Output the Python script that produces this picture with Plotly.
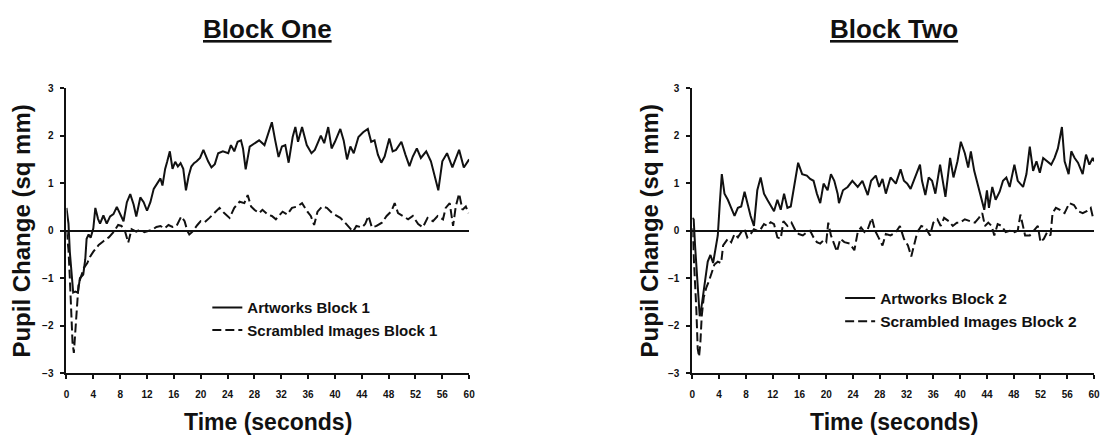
import plotly.graph_objects as go

# ---------------- data ----------------
# Block One - Artworks Block 1 (solid)
t_art1 = [0, 0.3, 0.5, 0.8, 1.0, 1.3, 1.7, 2.0, 2.5, 2.8, 3.0, 3.3, 3.6, 4.0, 4.3, 4.7, 5.0, 5.5, 6.0, 6.5,
          7.0, 7.5, 8.0, 8.5, 9.0, 9.5, 10.0, 10.4, 11.0, 11.5, 12.0, 12.5, 13.0, 13.5, 14.0, 14.3, 14.7, 15.0,
          15.4, 15.8, 16.2, 16.6, 17.0, 17.4, 17.8, 18.2, 18.6, 19.0, 19.4, 19.9, 20.4, 21.1, 21.6, 22.1, 22.6,
          23.3, 24.1, 24.5, 25.0, 25.5, 26.0, 26.3, 26.7, 27.3, 28.0, 28.7, 29.5, 30.1, 30.6, 31.1, 31.6, 32.1,
          32.6, 33.1, 33.7, 34.1, 34.5, 35.1, 35.8, 36.5, 37.0, 37.9, 38.4, 39.0, 39.5, 40.0, 40.8, 41.3, 41.8,
          42.3, 42.8, 43.5, 44.2, 44.9, 45.4, 45.9, 46.4, 46.9, 47.4, 48.1, 48.6, 49.1, 49.9, 50.5, 51.1, 51.6,
          52.2, 52.8, 53.6, 54.3, 54.9, 55.4, 56.0, 56.7, 57.5, 58.5, 59.2, 60.0]
v_art1 = [0.48, 0.15, -0.45, -1.1, -1.3, -1.28, -1.3, -1.0, -0.92, -0.6, -0.17, -0.08, -0.15, 0.05, 0.48, 0.25,
          0.15, 0.32, 0.15, 0.3, 0.35, 0.5, 0.35, 0.2, 0.6, 0.77, 0.55, 0.3, 0.7, 0.6, 0.42, 0.6, 0.88, 1.0, 1.1,
          0.95, 1.3, 1.45, 1.67, 1.3, 1.45, 1.35, 1.42, 1.3, 0.85, 1.15, 1.35, 1.42, 1.46, 1.53, 1.7, 1.46, 1.33,
          1.4, 1.63, 1.67, 1.63, 1.8, 1.67, 1.87, 1.9, 1.73, 1.29, 1.77, 1.84, 1.9, 1.8, 2.07, 2.28, 1.9, 1.55,
          1.77, 1.8, 1.43, 1.97, 2.18, 1.87, 2.18, 1.8, 1.63, 1.7, 2.0, 1.84, 2.18, 1.73, 1.87, 2.14, 1.9, 1.5,
          1.77, 1.63, 1.97, 2.07, 2.14, 1.87, 1.9, 1.6, 1.43, 1.56, 1.94, 1.67, 1.7, 1.87, 1.6, 1.36, 1.56, 1.73,
          1.53, 1.67, 1.46, 1.12, 0.85, 1.46, 1.63, 1.33, 1.7, 1.33, 1.5]

# Block One - Scrambled Images Block 1 (dashed)
t_scr1 = [0, 0.3, 0.5, 0.7, 0.9, 1.1, 1.3, 1.6, 1.8, 2.2, 2.6, 3.1, 3.5, 4.0, 4.8, 5.5, 6.3, 7.0, 7.7, 8.2,
          8.7, 9.2, 9.7, 10.4, 11.0, 11.6, 12.2, 12.8, 13.4, 14.0, 14.6, 15.2, 15.8, 16.4, 17.1, 17.6, 18.0,
          18.3, 18.7, 19.1, 19.5, 20.0, 20.6, 21.3, 22.3, 22.8, 23.5, 24.3, 25.0, 25.8, 26.5, 27.0, 27.5, 28.0,
          28.7, 29.2, 30.0, 30.6, 31.2, 32.2, 32.9, 33.6, 34.4, 35.1, 35.9, 36.4, 36.9, 37.4, 38.1, 38.8, 39.6,
          40.3, 40.8, 41.5, 42.3, 42.7, 43.2, 44.0, 44.5, 45.0, 45.5, 46.2, 47.0, 47.7, 48.4, 48.9, 49.4, 50.1,
          50.9, 51.6, 52.4, 53.1, 53.8, 54.6, 55.3, 56.1, 56.5, 57.1, 57.6, 58.0, 58.5, 59.0, 59.5, 59.9]
v_scr1 = [0.0, -0.4, -1.0, -1.7, -2.35, -2.57, -2.2, -1.5, -1.12, -0.95, -0.78, -0.68, -0.55, -0.44, -0.3,
          -0.22, -0.14, -0.03, 0.12, 0.1, 0.0, -0.25, 0.03, -0.02, 0.03, -0.03, 0.0, 0.02, 0.08, 0.1, 0.05, 0.12,
          0.08, 0.1, 0.3, 0.2, 0.0, -0.08, -0.03, 0.05, 0.12, 0.2, 0.18, 0.27, 0.4, 0.48, 0.37, 0.27, 0.48, 0.61,
          0.58, 0.75, 0.51, 0.44, 0.37, 0.44, 0.34, 0.31, 0.24, 0.4, 0.34, 0.48, 0.51, 0.58, 0.4, 0.31, 0.12,
          0.4, 0.51, 0.48, 0.37, 0.31, 0.27, 0.17, 0.03, -0.02, 0.1, 0.07, 0.14, 0.31, 0.07, 0.1, 0.17, 0.31,
          0.41, 0.58, 0.37, 0.31, 0.24, 0.31, 0.14, 0.07, 0.27, 0.2, 0.31, 0.24, 0.48, 0.58, 0.1, 0.51, 0.78,
          0.44, 0.51, 0.37]

# Block Two - Artworks Block 2 (solid)
t_art2 = [0, 0.2, 0.4, 0.6, 0.8, 1.1, 1.3, 1.6, 1.8, 2.1, 2.3, 2.7, 3.1, 3.5, 3.8, 4.1, 4.4, 4.8, 5.3, 5.8,
          6.3, 6.8, 7.3, 7.8, 8.2, 8.7, 9.2, 9.7, 10.2, 10.7, 11.2, 11.7, 12.2, 12.7, 13.2, 13.7, 14.2, 14.7,
          15.2, 15.8, 16.4, 17.1, 17.6, 18.1, 18.6, 19.1, 19.6, 20.2, 20.7, 21.2, 21.7, 21.9, 22.5, 23.2, 23.9,
          24.7, 25.4, 26.2, 26.7, 27.4, 27.9, 28.4, 28.9, 29.6, 30.4, 31.1, 31.6, 32.1, 32.6, 33.3, 34.0, 34.3,
          34.8, 35.3, 35.8, 36.3, 37.0, 37.8, 38.5, 39.0, 39.6, 40.1, 40.7, 41.2, 41.6, 42.1, 42.6, 43.1, 43.6,
          44.0, 44.3, 44.8, 45.3, 45.9, 46.4, 46.9, 47.4, 48.1, 48.6, 49.4, 49.9, 50.4, 50.9, 51.4, 51.9, 52.4,
          53.0, 53.6, 54.1, 54.6, 55.2, 55.6, 56.2, 56.6, 57.1, 57.6, 58.3, 58.8, 59.3, 59.8, 60.0]
v_art2 = [0.27, 0.24, -0.3, -0.71, -1.26, -1.8, -1.67, -1.4, -1.12, -0.85, -0.65, -0.51, -0.68, -0.37, -0.1,
          0.58, 1.19, 0.78, 0.65, 0.48, 0.31, 0.48, 0.51, 0.82, 0.58, 0.31, 0.1, 0.85, 1.12, 0.78, 0.65, 0.54,
          0.41, 0.65, 0.44, 0.78, 0.48, 0.51, 0.92, 1.43, 1.19, 1.16, 1.09, 1.05, 0.78, 0.58, 0.99, 0.85, 1.19,
          1.05, 0.78, 0.58, 0.85, 0.92, 1.05, 0.92, 1.05, 0.75, 1.05, 1.16, 0.92, 1.09, 0.78, 1.12, 0.99, 1.29,
          1.05, 0.99, 0.88, 1.12, 1.39, 1.05, 0.75, 1.12, 1.05, 0.78, 1.39, 0.71, 1.53, 1.12, 1.46, 1.87, 1.63,
          1.33, 1.67, 1.26, 0.99, 0.75, 0.44, 0.85, 0.48, 0.92, 0.65, 0.82, 1.05, 1.12, 0.92, 1.39, 1.05, 0.92,
          1.19, 1.77, 1.26, 1.46, 1.22, 1.53, 1.46, 1.39, 1.53, 1.73, 2.18, 1.46, 1.19, 1.67, 1.53, 1.43, 1.19,
          1.6, 1.39, 1.53, 1.46]

# Block Two - Scrambled Images Block 2 (dashed)
t_scr2 = [0, 0.35, 0.6, 0.8, 1.0, 1.2, 1.4, 1.7, 2.1, 2.5, 2.8, 3.3, 3.8, 4.3, 4.6, 5.3, 5.8, 6.3, 6.8, 7.3,
          7.8, 8.2, 8.7, 9.2, 9.7, 10.2, 10.7, 11.2, 11.7, 12.2, 12.7, 13.2, 13.6, 14.2, 14.8, 15.4, 15.9, 16.5,
          17.1, 17.6, 18.1, 18.6, 19.1, 19.6, 20.0, 20.3, 20.7, 21.2, 21.6, 22.1, 22.7, 23.5, 24.2, 24.7, 25.2,
          25.7, 26.2, 26.8, 27.3, 27.8, 28.4, 28.9, 29.6, 30.4, 31.0, 31.6, 32.2, 32.7, 33.1, 33.6, 34.2, 34.8,
          35.5, 36.0, 36.6, 37.1, 37.6, 38.3, 38.9, 39.5, 40.0, 40.7, 41.5, 42.2, 42.8, 43.3, 43.7, 44.2, 44.7,
          45.1, 45.6, 46.2, 46.8, 47.4, 48.1, 48.6, 49.0, 49.4, 49.7, 50.4, 51.1, 51.6, 52.0, 52.5, 53.0, 53.5,
          53.8, 54.3, 54.9, 55.6, 56.3, 57.0, 57.6, 58.3, 58.9, 59.5, 59.9]
v_scr2 = [0.05, -0.85, -1.67, -2.48, -2.65, -2.35, -1.8, -1.4, -1.19, -1.05, -0.92, -0.71, -0.65, -0.68, -0.31,
          -0.17, -0.24, -0.07, -0.14, -0.03, 0.03, -0.14, -0.07, 0.03, 0.0, 0.03, 0.14, 0.1, 0.18, 0.14, -0.14,
          -0.17, 0.2, 0.1, 0.17, 0.0, -0.07, -0.1, -0.03, 0.0, -0.14, -0.24, -0.27, -0.2, -0.24, 0.17, -0.1,
          -0.31, -0.44, -0.17, -0.24, -0.27, -0.41, -0.03, 0.07, -0.03, 0.03, 0.27, 0.0, -0.14, -0.31, -0.07,
          -0.1, -0.03, 0.1, -0.17, -0.31, -0.54, -0.31, -0.03, 0.1, 0.07, -0.1, 0.17, 0.24, 0.1, 0.27, 0.2, 0.1,
          0.17, 0.17, 0.24, 0.2, 0.17, 0.27, 0.37, 0.1, 0.17, 0.1, -0.1, 0.14, 0.1, -0.03, 0.0, -0.03, 0.0, 0.34,
          0.1, -0.1, -0.1, 0.03, 0.1, -0.24, -0.17, -0.03, -0.1, 0.37, 0.48, 0.44, 0.37, 0.58, 0.54, 0.41, 0.37,
          0.41, 0.48, 0.24]

panel_titles = ["Block One", "Block Two"]
x_title = "Time (seconds)"
y_title = "Pupil Change (sq mm)"
names1 = ["Artworks Block 1", "Scrambled Images Block 1"]
names2 = ["Artworks Block 2", "Scrambled Images Block 2"]
x_ticks = list(range(0, 61, 4))
y_ticks = [-3, -2, -1, 0, 1, 2, 3]

# ---------------- figure ----------------
W, H = 1107, 437
FONT = "Liberation Sans, Arial, sans-serif"
INK = "#111111"

def px_x(p):
    return p / W

def px_y(p):
    return 1 - p / H

fig = go.Figure()
solid = dict(color=INK, width=2)
dashed = dict(color=INK, width=2, dash="9px,4px")

fig.add_trace(go.Scatter(x=t_art1, y=v_art1, mode="lines", line=solid, name=names1[0],
                         xaxis="x", yaxis="y", legend="legend"))
fig.add_trace(go.Scatter(x=t_scr1, y=v_scr1, mode="lines", line=dashed, name=names1[1],
                         xaxis="x", yaxis="y", legend="legend"))
fig.add_trace(go.Scatter(x=t_art2, y=v_art2, mode="lines", line=solid, name=names2[0],
                         xaxis="x2", yaxis="y2", legend="legend2"))
fig.add_trace(go.Scatter(x=t_scr2, y=v_scr2, mode="lines", line=dashed, name=names2[1],
                         xaxis="x2", yaxis="y2", legend="legend2"))

tickfont = dict(family=FONT, size=10, color=INK, weight="bold")
xcommon = dict(range=[0, 60], tickvals=x_ticks, showline=True, linecolor=INK, linewidth=2,
               ticks="outside", ticklen=4, tickwidth=1.5, tickcolor=INK, tickfont=tickfont,
               showgrid=False, zeroline=False, ticklabelstandoff=7)
ycommon = dict(range=[-3, 3], tickvals=y_ticks, showline=True, linecolor=INK, linewidth=2,
               ticks="outside", ticklen=4, tickwidth=1.5, tickcolor=INK, tickfont=tickfont,
               showgrid=False, zeroline=True, zerolinecolor=INK, zerolinewidth=2, ticklabelstandoff=5)

dom_y = [px_y(377), px_y(85)]
fig.update_layout(
    width=W, height=H,
    margin=dict(l=0, r=0, t=0, b=0),
    paper_bgcolor="white", plot_bgcolor="white",
    xaxis=dict(domain=[px_x(64), px_x(470)], anchor="y", **xcommon),
    yaxis=dict(domain=dom_y, anchor="x", **ycommon),
    xaxis2=dict(domain=[px_x(695), px_x(1100)], anchor="y2", **xcommon),
    yaxis2=dict(domain=dom_y, anchor="x2", **ycommon),
    legend=dict(x=px_x(206), y=px_y(293), xanchor="left", yanchor="top", bgcolor="rgba(0,0,0,0)",
                font=dict(family=FONT, size=15, color=INK, weight="bold"), tracegroupgap=0),
    legend2=dict(x=px_x(844), y=px_y(283), xanchor="left", yanchor="top", bgcolor="rgba(0,0,0,0)",
                 font=dict(family=FONT, size=15.5, color=INK, weight="bold"), tracegroupgap=0),
    showlegend=True,
)

ann = []
for cx, title in zip([267, 898], panel_titles):
    ann.append(dict(text=f"<b><u>{title}</u></b>", x=px_x(cx), y=px_y(25), xref="paper", yref="paper",
                    showarrow=False, xanchor="center", yanchor="middle",
                    font=dict(family=FONT, size=26, color=INK)))
    ann.append(dict(text=f"<b>{x_title}</b>", x=px_x(cx), y=px_y(427), xref="paper", yref="paper",
                    showarrow=False, xanchor="center", yanchor="middle",
                    font=dict(family=FONT, size=23, color=INK)))
for cx in [19, 652]:
    ann.append(dict(text=f"<b>{y_title}</b>", x=px_x(cx), y=px_y(231), xref="paper", yref="paper",
                    showarrow=False, xanchor="center", yanchor="middle", textangle=-90,
                    font=dict(family=FONT, size=24, color=INK)))
fig.update_layout(annotations=ann)

fig.write_html("out.html", config={"displayModeBar": False},
               post_script="document.body.style.margin='0';document.body.style.overflow='hidden';")
